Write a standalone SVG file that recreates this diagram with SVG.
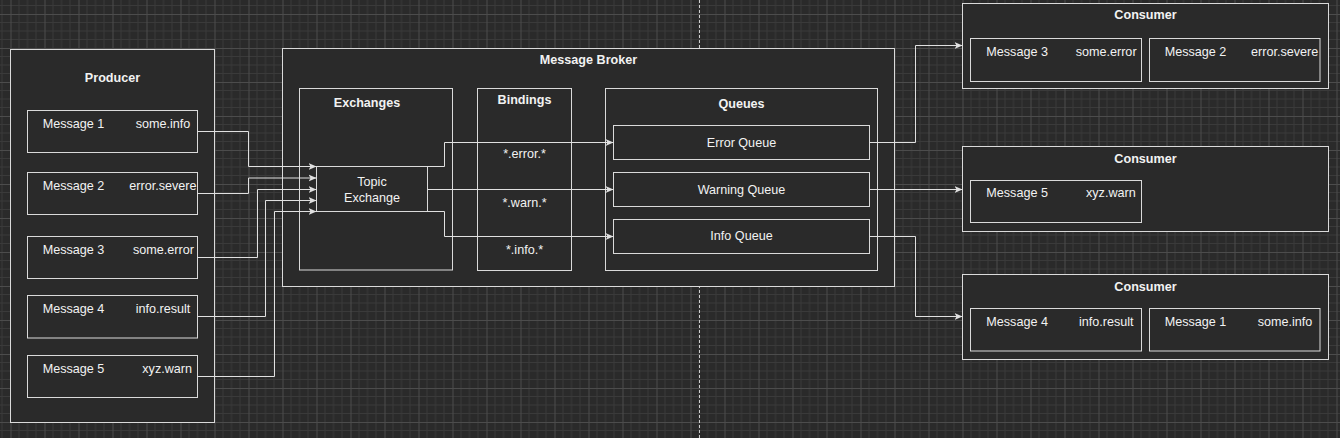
<svg xmlns="http://www.w3.org/2000/svg" width="1340" height="438" viewBox="0 0 1340 438">
<style>
.box{fill:#2a2a2a;stroke:#dadada;stroke-width:1}
.t{font-family:"Liberation Sans",Arial,sans-serif;font-size:12.6px;fill:#f2f2f2}
.b{font-weight:bold;text-anchor:middle}
.m{text-anchor:middle}
.c{fill:none;stroke:#e0e0e0;stroke-width:1}
</style>
<defs>
<pattern id="grid" patternUnits="userSpaceOnUse" x="10.5" y="14" width="34" height="34">
<rect width="34" height="34" fill="#2a2a2a"/>
<path d="M8.5,0V34M17,0V34M25.5,0V34M0,8.5H34M0,17H34M0,25.5H34" stroke="#3a3a3a" stroke-width="1"/>
<path d="M0.5,0V34M0,0.5H34" stroke="#4c4c4c" stroke-width="1"/>
</pattern>
<marker id="arr" markerUnits="userSpaceOnUse" markerWidth="9" markerHeight="8" refX="8" refY="4" orient="auto">
<path d="M0,0.5L8,4L0,7.5L2,4Z" fill="#e0e0e0"/>
</marker>
</defs>
<rect width="1340" height="438" fill="url(#grid)"/>
<line x1="699.5" y1="0" x2="699.5" y2="438" stroke="#cfcfcf" stroke-width="1" stroke-dasharray="3,2"/>

<g id="producer">
<rect class="box" x="10.5" y="49.5" width="204" height="373"/>
<text class="t b" x="112.5" y="81.7">Producer</text>
</g>
<g id="p-msg1">
<rect class="box" x="27.5" y="110.5" width="170" height="42"/>
<text class="t" x="42.7" y="127.7">Message 1</text>
<text class="t" x="135.7" y="127.7">some.info</text>
</g>
<g id="p-msg2">
<rect class="box" x="27.5" y="172.5" width="170" height="42"/>
<text class="t" x="42.7" y="190">Message 2</text>
<text class="t" x="129.3" y="190">error.severe</text>
</g>
<g id="p-msg3">
<rect class="box" x="27.5" y="236.5" width="170" height="42"/>
<text class="t" x="42.7" y="253.7">Message 3</text>
<text class="t" x="133" y="253.7">some.error</text>
</g>
<g id="p-msg4">
<rect class="box" x="27.5" y="295.5" width="170" height="42.5"/>
<text class="t" x="42.7" y="313.2">Message 4</text>
<text class="t" x="135.7" y="313.2">info.result</text>
</g>
<g id="p-msg5">
<rect class="box" x="27.5" y="355.5" width="170" height="42"/>
<text class="t" x="42.7" y="372.6">Message 5</text>
<text class="t" x="142.3" y="372.6">xyz.warn</text>
</g>

<g id="broker">
<rect class="box" x="282.5" y="48.5" width="612" height="238"/>
<text class="t b" x="588.5" y="64.4">Message Broker</text>
</g>
<g id="exchanges">
<rect class="box" x="299.5" y="88.5" width="153" height="181.5"/>
<text class="t b" x="367" y="107.4">Exchanges</text>
</g>
<g id="bindings">
<rect class="box" x="477.5" y="88.5" width="94" height="182"/>
<text class="t b" x="524.5" y="103.7">Bindings</text>
<text class="t m" x="524.5" y="157.7">*.error.*</text>
<text class="t m" x="524.5" y="207.1">*.warn.*</text>
<text class="t m" x="524.5" y="253.7">*.info.*</text>
</g>
<g id="queues">
<rect class="box" x="605.5" y="88.5" width="272" height="182"/>
<text class="t b" x="741.5" y="107.7">Queues</text>
</g>
<g id="error-queue">
<rect class="box" x="613.5" y="125.5" width="256" height="34"/>
<text class="t m" x="741.5" y="146.7">Error Queue</text>
</g>
<g id="warning-queue">
<rect class="box" x="613.5" y="172.5" width="256" height="34"/>
<text class="t m" x="741.5" y="193.7">Warning Queue</text>
</g>
<g id="info-queue">
<rect class="box" x="613.5" y="219.5" width="256" height="34"/>
<text class="t m" x="741.5" y="240.4">Info Queue</text>
</g>
<g id="topic-exchange">
<rect class="box" x="316.5" y="166.5" width="111" height="45"/>
<text class="t m" x="372" y="186.1">Topic</text>
<text class="t m" x="372" y="201.7">Exchange</text>
</g>

<g id="consumer1">
<rect class="box" x="962.5" y="3.5" width="366" height="85"/>
<text class="t b" x="1145.5" y="18.7">Consumer</text>
<rect class="box" x="970.5" y="38.5" width="171" height="43"/>
<text class="t" x="986.3" y="56.1">Message 3</text>
<text class="t" x="1075.7" y="56.1">some.error</text>
<rect class="box" x="1149.5" y="38.5" width="170.5" height="43"/>
<text class="t" x="1164.7" y="56.1">Message 2</text>
<text class="t" x="1251" y="56.1">error.severe</text>
</g>
<g id="consumer2">
<rect class="box" x="962.5" y="146.5" width="366" height="85"/>
<text class="t b" x="1145.5" y="162.7">Consumer</text>
<rect class="box" x="970.5" y="180.5" width="171" height="42"/>
<text class="t" x="986.3" y="197.1">Message 5</text>
<text class="t" x="1086" y="197.1">xyz.warn</text>
</g>
<g id="consumer3">
<rect class="box" x="962.5" y="274.5" width="366" height="85"/>
<text class="t b" x="1145.5" y="291.1">Consumer</text>
<rect class="box" x="970.5" y="308.5" width="171" height="42.5"/>
<text class="t" x="986.3" y="325.7">Message 4</text>
<text class="t" x="1079" y="325.7">info.result</text>
<rect class="box" x="1149.5" y="308.5" width="170.5" height="42.5"/>
<text class="t" x="1164.7" y="325.7">Message 1</text>
<text class="t" x="1257.7" y="325.7">some.info</text>
</g>

<g id="connectors">
<path class="c" marker-end="url(#arr)" d="M197.5,131.5H248.5V166.5H316.5"/>
<path class="c" marker-end="url(#arr)" d="M197.5,193.5H248.5V178H316.5"/>
<path class="c" marker-end="url(#arr)" d="M197.5,257.5H257.5V189.5H316.5"/>
<path class="c" marker-end="url(#arr)" d="M197.5,316.5H265.5V200.5H316.5"/>
<path class="c" marker-end="url(#arr)" d="M197.5,376.5H274.5V211.5H316.5"/>
<path class="c" marker-end="url(#arr)" d="M427.5,166.5H444.5V142.5H613.5"/>
<path class="c" marker-end="url(#arr)" d="M427.5,189.5H613.5"/>
<path class="c" marker-end="url(#arr)" d="M427.5,211.5H444.5V236.5H613.5"/>
<path class="c" marker-end="url(#arr)" d="M869.5,142.5H915.5V45.5H962.5"/>
<path class="c" marker-end="url(#arr)" d="M869.5,189.5H962.5"/>
<path class="c" marker-end="url(#arr)" d="M869.5,236.5H915.5V316.5H962.5"/>
</g>
</svg>
